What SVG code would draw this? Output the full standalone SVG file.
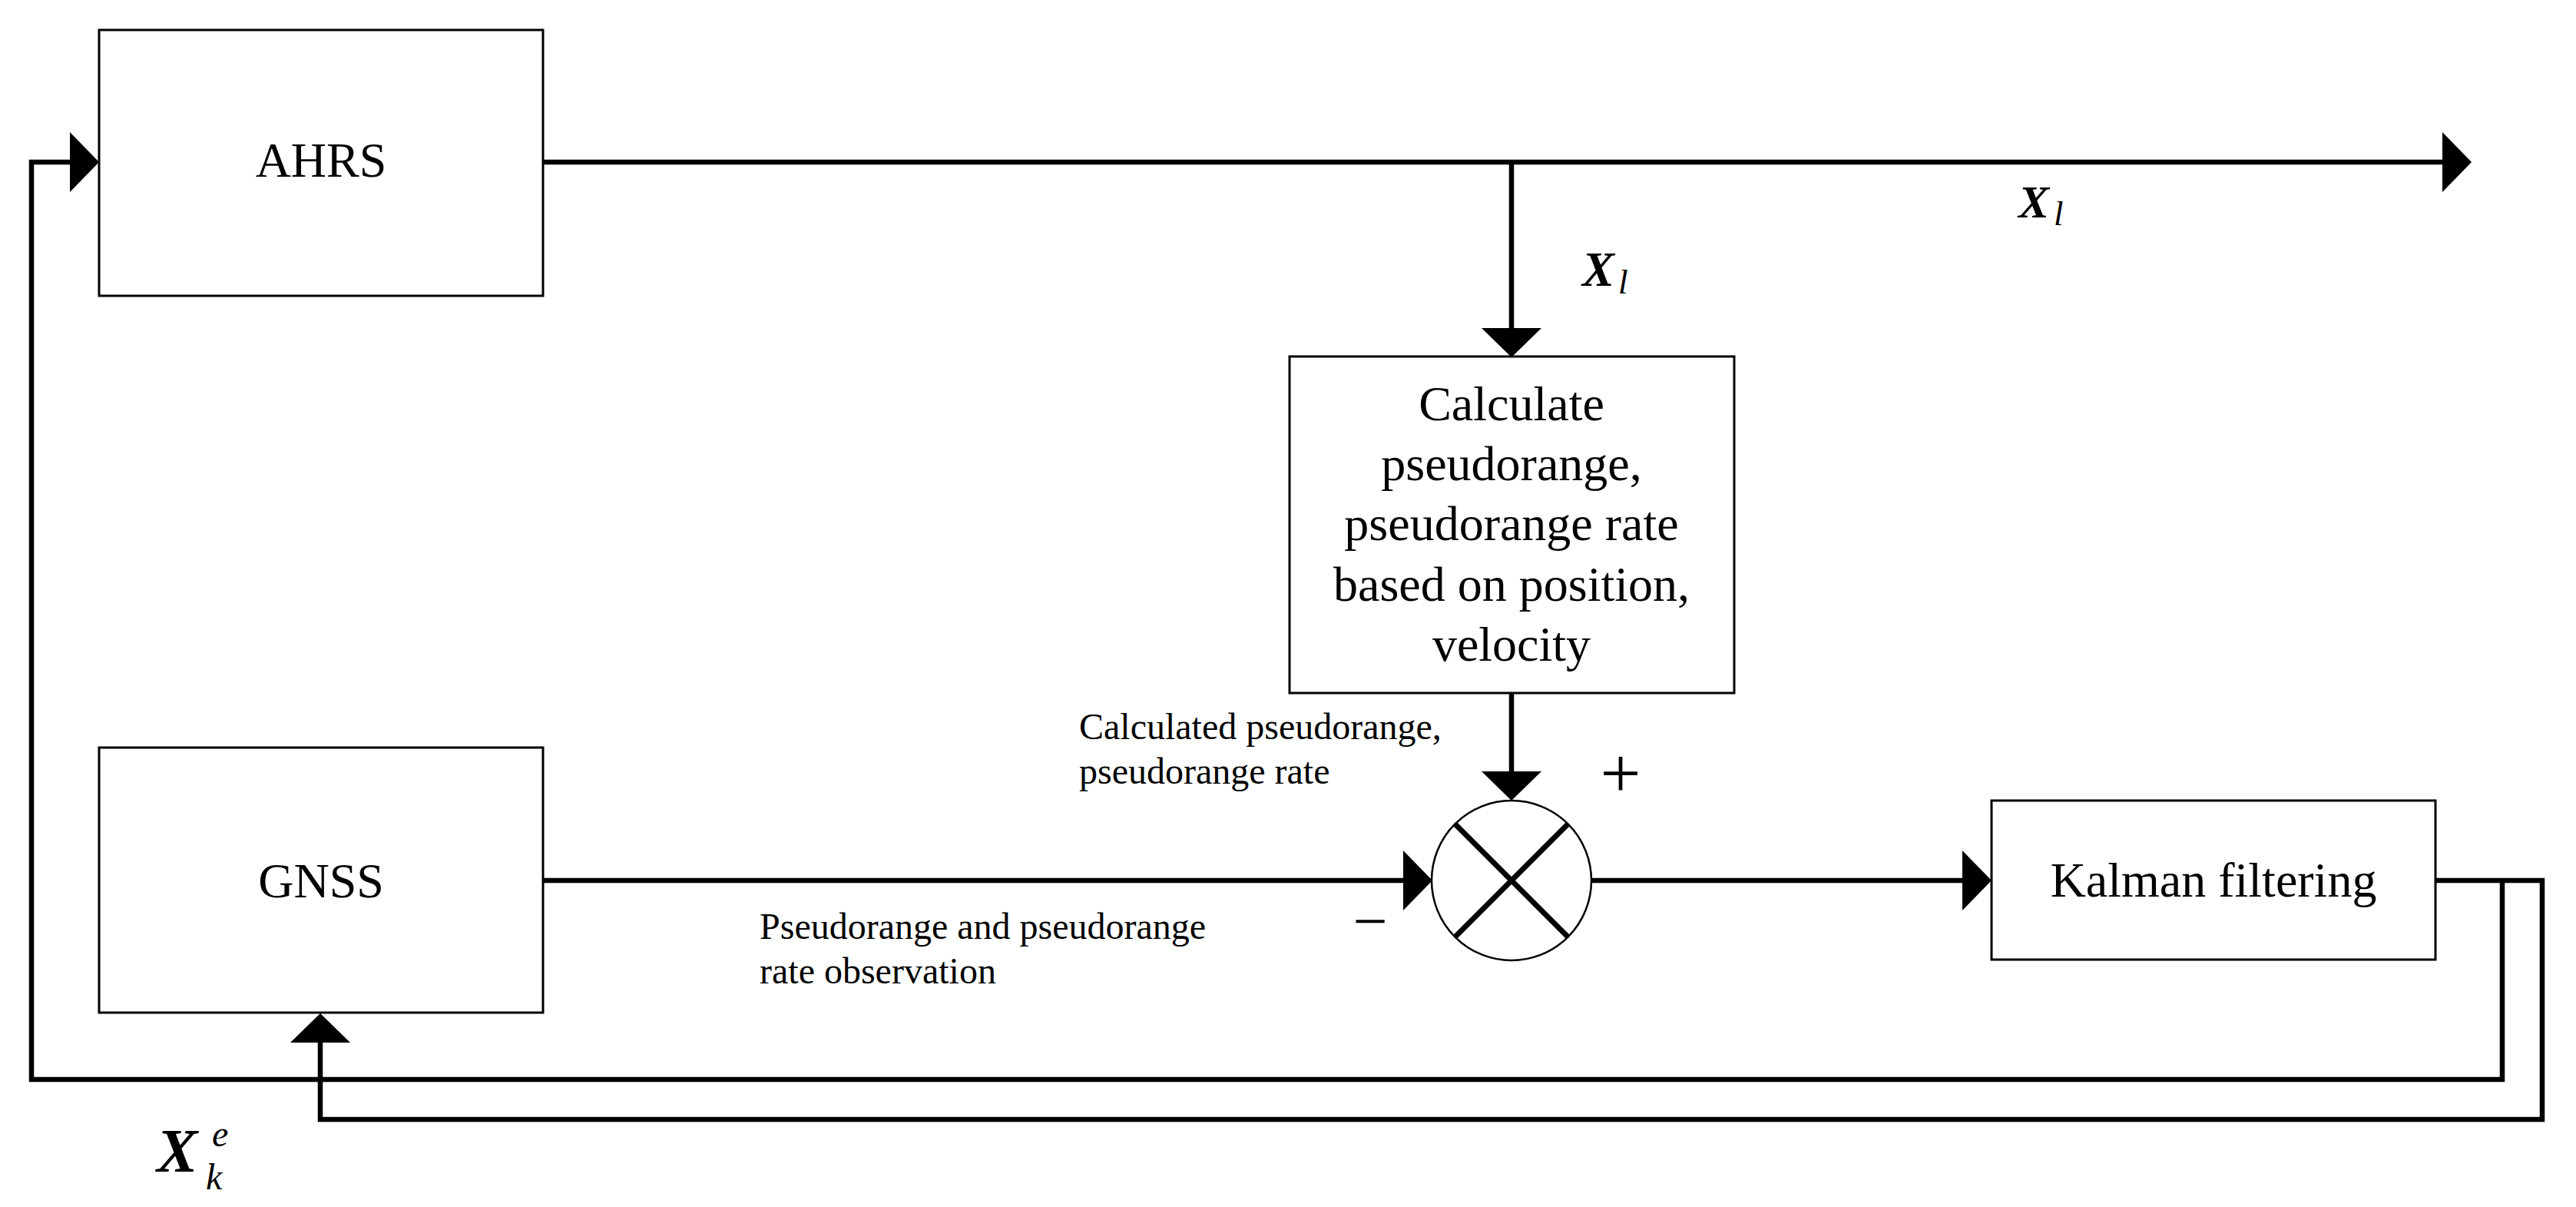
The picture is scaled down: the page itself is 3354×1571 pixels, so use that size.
<svg xmlns="http://www.w3.org/2000/svg" width="3354" height="1571" viewBox="0 0 3354 1571">
  <style>
    .box { fill: #fff; stroke: #000; stroke-width: 3; }
    .lbl { font-family: "Liberation Serif", "Times New Roman", serif; fill: #000; }
    .big { font-size: 64px; text-anchor: middle; }
    .small { font-size: 48px; }
    .wire { fill: none; stroke: #000; stroke-width: 6.5; stroke-linejoin: miter; stroke-linecap: butt; }
    .var { font-family: "Liberation Serif", "Times New Roman", serif; font-style: italic; fill: #000; }
  </style>
  <defs>
    <marker id="arr" viewBox="0 0 38 78" refX="0" refY="39" markerWidth="38" markerHeight="78" markerUnits="userSpaceOnUse" orient="auto">
      <path d="M0,0 L38,39 L0,78 Z" fill="#000"/>
    </marker>
  </defs>
  <rect width="3354" height="1571" fill="#fff"/>

  <g id="connectors">
    <path class="wire" d="M707,211 H3180" marker-end="url(#arr)"/>
    <path class="wire" d="M1968,211 V427" marker-end="url(#arr)"/>
    <path class="wire" d="M1968,902 V1004" marker-end="url(#arr)"/>
    <path class="wire" d="M707,1146 H1827" marker-end="url(#arr)"/>
    <path class="wire" d="M2072,1146 H2555" marker-end="url(#arr)"/>
    <path class="wire" d="M3171,1146 H3310 V1457 H417 V1357" marker-end="url(#arr)"/>
    <path class="wire" d="M3258,1146 V1405 H41 V211 H91" marker-end="url(#arr)"/>
  </g>

  <g id="ahrs">
    <rect class="box" x="129" y="39" width="578" height="346"/>
    <text class="lbl big" x="418" y="230">AHRS</text>
  </g>

  <g id="gnss">
    <rect class="box" x="129" y="973" width="578" height="345"/>
    <text class="lbl big" x="418" y="1168">GNSS</text>
  </g>

  <g id="calc">
    <rect class="box" x="1679" y="464" width="579" height="438"/>
    <text class="lbl big" x="1968" y="547">Calculate</text>
    <text class="lbl big" x="1968" y="625">pseudorange,</text>
    <text class="lbl big" x="1968" y="703">pseudorange rate</text>
    <text class="lbl big" x="1968" y="782">based on position,</text>
    <text class="lbl big" x="1968" y="860">velocity</text>
  </g>

  <g id="sum">
    <circle cx="1968" cy="1146" r="104" fill="#fff" stroke="#000" stroke-width="2.5"/>
    <path d="M1894,1072 L2042,1220 M2042,1072 L1894,1220" stroke="#000" stroke-width="7" fill="none"/>
    <text class="lbl" x="2110" y="1038" font-size="94" text-anchor="middle">+</text>
    <text class="lbl" x="1784" y="1226" font-size="80" text-anchor="middle">−</text>
  </g>

  <g id="kalman">
    <rect class="box" x="2593" y="1042" width="578" height="207"/>
    <text class="lbl big" x="2882" y="1167">Kalman filtering</text>
  </g>

  <g id="labels">
    <text class="lbl small" x="1405" y="962">Calculated pseudorange,</text>
    <text class="lbl small" x="1405" y="1020">pseudorange rate</text>
    <text class="lbl small" x="989" y="1222">Pseudorange and pseudorange</text>
    <text class="lbl small" x="989" y="1280">rate observation</text>
    <text class="var"><tspan x="2060" y="372" font-size="63" font-weight="bold">X</tspan><tspan x="2107" y="382" font-size="45">l</tspan></text>
    <text class="var"><tspan x="2628" y="283" font-size="60" font-weight="bold">X</tspan><tspan x="2674" y="293" font-size="45">l</tspan></text>
    <text class="var"><tspan x="204" y="1525" font-size="80" font-weight="bold">X</tspan><tspan x="276" y="1492" font-size="48">e</tspan><tspan x="268" y="1548" font-size="48">k</tspan></text>
  </g>
</svg>
